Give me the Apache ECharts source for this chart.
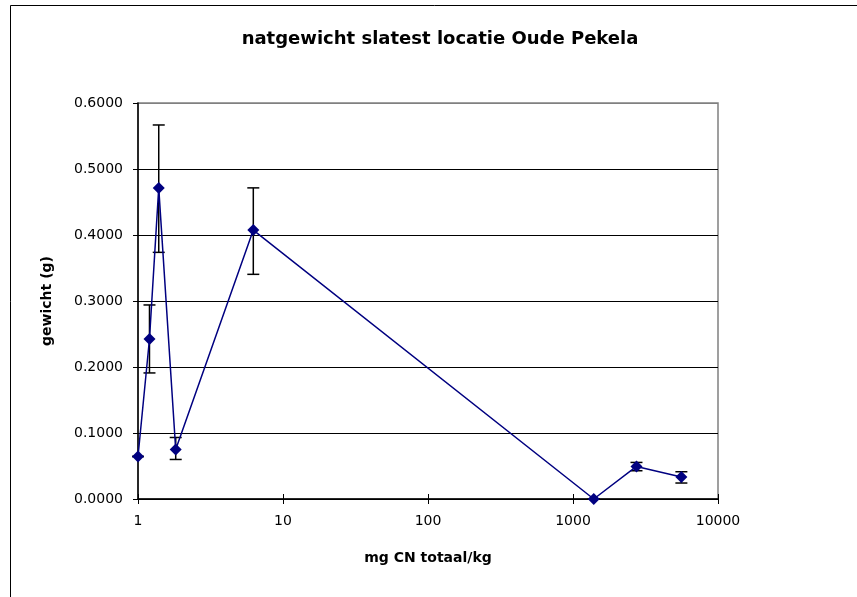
<!DOCTYPE html>
<html>
<head>
<meta charset="utf-8">
<script src="https://cdn.jsdelivr.net/npm/echarts@6/dist/echarts.min.js"></script>
<style>
  html, body { margin: 0; padding: 0; background: #fff; }
  #chart { width: 857px; height: 597px; }
</style>
</head>
<body>
<div id="chart"></div>
<script>
// Concentration (mg CN totaal/kg) for each sample
const concentration = [1, 1.2, 1.39, 1.82, 6.24, 1390, 2740, 5590];
// Mean wet weight (g)
const weight = [0.0644, 0.2425, 0.4714, 0.0750, 0.4074, 0.0000, 0.0493, 0.0333];
// Error bar bounds (g)
const errLow = [0.0644, 0.1910, 0.3737, 0.0599, 0.3404, 0.0000, 0.0428, 0.0242];
const errHigh = [0.0644, 0.2940, 0.5667, 0.0932, 0.4714, 0.0000, 0.0554, 0.0413];
// Axis ticks
const yTicks = [0, 0.1, 0.2, 0.3, 0.4, 0.5, 0.6];
const xRange = [1, 10000];

const points = concentration.map((c, i) => [c, weight[i]]);
const bars = concentration.map((c, i) => [c, errLow[i], errHigh[i]]);

const chart = echarts.init(document.getElementById('chart'));
const tickFont = { fontFamily: 'DejaVu Sans', fontSize: 14, color: '#000' };

chart.setOption({
  animation: false,
  backgroundColor: '#fff',
  title: {
    text: 'natgewicht slatest locatie Oude Pekela',
    left: 435,
    top: 25,
    textAlign: 'center',
    textStyle: { fontFamily: 'DejaVu Sans', fontSize: 18, fontWeight: 'bold', color: '#000' }
  },
  graphic: [{
    type: 'rect',
    shape: { x: 10.5, y: 5.5, width: 1000, height: 1000 },
    style: { fill: null, stroke: '#000', lineWidth: 1 },
    silent: true,
    z: -1
  }],
  grid: {
    left: 138, right: 139, top: 103, bottom: 98,
    show: true, borderColor: '#808080', borderWidth: 1.5, backgroundColor: 'transparent'
  },
  xAxis: [{
    type: 'log',
    logBase: 10,
    min: xRange[0],
    max: xRange[1],
    name: 'mg CN totaal/kg',
    nameLocation: 'middle',
    nameGap: 52,
    nameTextStyle: { fontFamily: 'DejaVu Sans', fontSize: 14, fontWeight: 'bold', color: '#000' },
    axisLine: { show: true, lineStyle: { color: '#000', width: 1.5 } },
    axisTick: { show: true, length: 5, lineStyle: { color: '#000', width: 1 } },
    axisLabel: { ...tickFont, margin: 15, formatter: v => String(Math.round(v)) },
    minorTick: { show: false },
    splitLine: { show: false }
  }, {
    type: 'log',
    logBase: 10,
    min: xRange[0],
    max: xRange[1],
    position: 'bottom',
    axisLine: { show: false },
    axisTick: { show: true, inside: true, length: 5, lineStyle: { color: '#000', width: 1 } },
    axisLabel: { show: false },
    splitLine: { show: false }
  }],
  yAxis: {
    type: 'value',
    min: yTicks[0],
    max: yTicks[yTicks.length - 1],
    interval: 0.1,
    name: 'gewicht (g)',
    nameLocation: 'middle',
    nameGap: 84,
    nameTextStyle: { fontFamily: 'DejaVu Sans', fontSize: 14, fontWeight: 'bold', color: '#000' },
    axisLine: { show: true, lineStyle: { color: '#000', width: 1.5 } },
    axisTick: { show: true, length: 5, lineStyle: { color: '#000', width: 1 } },
    axisLabel: { ...tickFont, margin: 15, formatter: v => v.toFixed(4) },
    splitLine: {
      show: true,
      lineStyle: { color: ['#000', '#000', '#000', '#000', '#000', '#000', '#808080'], width: 1 }
    }
  },
  series: [{
    type: 'custom',
    name: 'error',
    xAxisIndex: 0,
    data: bars,
    z: 3,
    renderItem: function (params, api) {
      const x = api.value(0);
      const lo = api.coord([x, api.value(1)]);
      const hi = api.coord([x, api.value(2)]);
      const half = 6;
      const style = { stroke: '#000', lineWidth: 1.5 };
      return {
        type: 'group',
        children: [
          { type: 'line', shape: { x1: lo[0], y1: lo[1], x2: hi[0], y2: hi[1] }, style },
          { type: 'line', shape: { x1: lo[0] - half, y1: lo[1], x2: lo[0] + half, y2: lo[1] }, style },
          { type: 'line', shape: { x1: hi[0] - half, y1: hi[1], x2: hi[0] + half, y2: hi[1] }, style }
        ]
      };
    }
  }, {
    type: 'line',
    name: 'gewicht',
    xAxisIndex: 0,
    data: points,
    z: 4,
    symbol: 'diamond',
    symbolSize: 12,
    showAllSymbol: true,
    lineStyle: { color: '#000080', width: 1.5 },
    itemStyle: { color: '#000080' }
  }]
});
</script>
</body>
</html>
